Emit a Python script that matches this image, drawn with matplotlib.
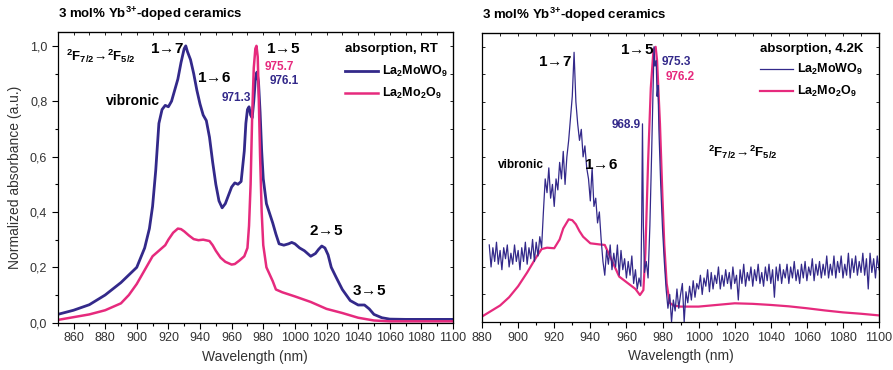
import numpy as np
import matplotlib
matplotlib.use("Agg")
from matplotlib import pyplot as plt
from matplotlib.ticker import MultipleLocator, FuncFormatter

plt.rcParams['font.family'] = ['Liberation Sans', 'DejaVu Sans']
plt.rcParams['mathtext.fontset'] = 'custom'
plt.rcParams['mathtext.rm'] = 'Liberation Sans:bold'
plt.rcParams['mathtext.it'] = 'Liberation Sans:bold'
plt.rcParams['mathtext.bf'] = 'Liberation Sans:bold'
plt.rcParams['mathtext.default'] = 'rm'

BLUE = '#33298a'
PINK = '#e62a7d'

# ---- room temperature data (left panel)
rt_wl_mowo = [850, 860, 870, 880, 890, 900, 905, 908, 910, 912, 914, 916, 918, 920, 922, 924, 926,
              928, 930, 931, 932, 934, 936, 938, 940, 942, 944, 946, 948, 950, 952, 954, 956, 958,
              960, 962, 964, 966, 968, 969, 970, 971, 972, 973, 974, 975, 976, 977, 978, 979, 980,
              982, 986, 988, 990, 993, 996, 998, 1000, 1003, 1006, 1010, 1013, 1015, 1017, 1019,
              1021, 1023, 1026, 1030, 1035, 1040, 1044, 1047, 1050, 1055, 1060, 1070, 1080, 1090, 1100]
rt_abs_mowo = [0.03, 0.045, 0.065, 0.10, 0.145, 0.20, 0.27, 0.34, 0.42, 0.55, 0.72, 0.77, 0.785, 0.78,
               0.80, 0.84, 0.88, 0.94, 0.99, 1.0, 0.98, 0.95, 0.90, 0.84, 0.79, 0.75, 0.73, 0.67, 0.58,
               0.50, 0.44, 0.415, 0.43, 0.46, 0.49, 0.505, 0.50, 0.51, 0.62, 0.72, 0.77, 0.78, 0.75,
               0.74, 0.80, 0.88, 0.905, 0.87, 0.76, 0.62, 0.52, 0.43, 0.36, 0.32, 0.285, 0.28, 0.285,
               0.29, 0.285, 0.27, 0.26, 0.24, 0.25, 0.265, 0.277, 0.27, 0.245, 0.20, 0.165, 0.12,
               0.08, 0.064, 0.064, 0.05, 0.03, 0.018, 0.013, 0.012, 0.012, 0.012, 0.012]

rt_wl_mo2 = [850, 860, 870, 880, 890, 895, 900, 905, 910, 915, 918, 920, 923, 926, 928, 930, 933, 936,
             939, 942, 946, 948, 950, 953, 956, 960, 962, 965, 968, 970, 971, 972, 973, 974, 975,
             975.7, 976.5, 977, 978, 979, 980, 982, 986, 988, 992, 1000, 1010, 1020, 1030, 1040,
             1050, 1060, 1080, 1100]
rt_abs_mo2 = [0.01, 0.02, 0.03, 0.045, 0.07, 0.10, 0.14, 0.19, 0.24, 0.265, 0.28, 0.30, 0.325, 0.34,
              0.338, 0.33, 0.315, 0.302, 0.298, 0.30, 0.295, 0.28, 0.26, 0.235, 0.22, 0.21, 0.212,
              0.225, 0.24, 0.27, 0.35, 0.50, 0.75, 0.92, 0.99, 1.0, 0.96, 0.85, 0.60, 0.40, 0.28,
              0.20, 0.15, 0.12, 0.11, 0.095, 0.075, 0.05, 0.035, 0.018, 0.008, 0.005, 0.005, 0.005]

# ---- 4.2 K data (right panel)
lt_wl_mowo = list(range(884, 969)) + [968.5, 968.9, 969.4, 970, 971, 972, 972.5, 973, 974, 975,
                                        975.3, 975.8, 976.5, 977, 977.5, 978, 979, 980, 981] + \
    list(range(982, 1101))
lt_abs_mowo = [
    # 884 - 913
    0.28, 0.20, 0.27, 0.22, 0.29, 0.21, 0.26, 0.19, 0.27, 0.23, 0.28, 0.20, 0.25, 0.21, 0.28, 0.22,
    0.26, 0.19, 0.27, 0.22, 0.29, 0.21, 0.27, 0.23, 0.30, 0.22, 0.29, 0.24, 0.31, 0.27,
    # 914 - 967
    0.40, 0.52, 0.47, 0.56, 0.45, 0.50, 0.42, 0.52, 0.48, 0.58, 0.52, 0.62, 0.50, 0.60, 0.66, 0.74,
    0.82, 0.98, 0.80, 0.72, 0.66, 0.70, 0.60, 0.64, 0.56, 0.52, 0.44, 0.56, 0.42, 0.45, 0.36, 0.40,
    0.30, 0.22, 0.17, 0.26, 0.21, 0.28, 0.19, 0.25, 0.20, 0.28, 0.17, 0.26, 0.19, 0.23, 0.16, 0.22,
    0.17, 0.24, 0.14, 0.19, 0.12, 0.16,
    # 968 - 981
    0.13, 0.40, 0.72, 0.35, 0.18, 0.22, 0.16, 0.25, 0.35, 0.62, 0.92, 1.0, 0.93, 0.95, 0.82, 0.86,
    0.70, 0.50, 0.34, 0.22,
    # 982 - 999
    0.12, 0.05, 0.10, 0.0, 0.08, 0.04, 0.12, 0.05, 0.10, 0.14, 0.0, 0.11, 0.07, 0.13, 0.08, 0.15,
    0.09, 0.14,
    # 1000 - 1100
    0.12, 0.17, 0.10, 0.16, 0.13, 0.19, 0.11, 0.18, 0.12, 0.17, 0.14, 0.20, 0.12, 0.17, 0.13, 0.19,
    0.14, 0.18, 0.12, 0.20, 0.14, 0.17, 0.08, 0.19, 0.14, 0.21, 0.13, 0.18, 0.15, 0.20, 0.13, 0.19,
    0.15, 0.21, 0.14, 0.18, 0.13, 0.20, 0.15, 0.21, 0.14, 0.19, 0.09, 0.20, 0.15, 0.21, 0.14, 0.19,
    0.16, 0.21, 0.14, 0.20, 0.16, 0.22, 0.15, 0.19, 0.14, 0.21, 0.16, 0.22, 0.15, 0.20, 0.17, 0.23,
    0.15, 0.21, 0.17, 0.22, 0.16, 0.21, 0.17, 0.24, 0.16, 0.21, 0.17, 0.24, 0.16, 0.22, 0.18, 0.24,
    0.16, 0.21, 0.17, 0.25, 0.16, 0.23, 0.18, 0.24, 0.17, 0.22, 0.18, 0.25, 0.17, 0.23, 0.12, 0.25,
    0.18, 0.23, 0.16, 0.24, 0.19]

lt_wl_mo2 = [880, 885, 890, 895, 900, 905, 910, 913, 916, 920, 923, 925, 928, 930, 932, 934, 936,
             940, 945, 948, 951, 956, 962, 965, 967.5, 969.4, 970.5, 972, 973.5, 975, 976.2, 977,
             978.6, 980, 981, 982.3, 984, 986, 990, 1000, 1010, 1020, 1030, 1040, 1050, 1060,
             1070, 1080, 1090, 1100]
lt_abs_mo2 = [0.02, 0.04, 0.06, 0.09, 0.13, 0.18, 0.235, 0.265, 0.27, 0.268, 0.30, 0.34, 0.373,
              0.37, 0.355, 0.33, 0.31, 0.286, 0.282, 0.28, 0.237, 0.165, 0.135, 0.12, 0.098, 0.116,
              0.25, 0.58, 0.85, 0.99, 1.0, 0.95, 0.72, 0.45, 0.28, 0.14, 0.07, 0.06, 0.056, 0.056,
              0.062, 0.068, 0.066, 0.062, 0.057, 0.05, 0.042, 0.035, 0.03, 0.024]

lbl_mowo = r'La$_2$MoWO$_9$'
lbl_mo2 = r'La$_2$Mo$_2$O$_9$'
title = r'3 mol% Yb$^{3{+}}$-doped ceramics'
trans = r'$^2F_{7/2}\!\rightarrow\!{}^2F_{5/2}$'


def tr(a, b):
    return r'$%s\!\rightarrow\!%s$' % (a, b)


comma = FuncFormatter(lambda v, p: ('%.1f' % v).replace('.', ','))

fig = plt.figure(figsize=(8.93, 3.70), dpi=100)
ax1 = fig.add_axes([0.0646, 0.1278, 0.4427, 0.7857])
ax2 = fig.add_axes([0.5398, 0.1297, 0.4446, 0.7810])


def style(ax, xmin, step_major, ylabels):
    ax.set_xlim(xmin, 1100)
    ax.set_ylim(0, 1.05)
    ax.xaxis.set_major_locator(MultipleLocator(step_major))
    ax.xaxis.set_minor_locator(MultipleLocator(step_major / 2))
    ax.yaxis.set_major_locator(MultipleLocator(0.2))
    ax.yaxis.set_minor_locator(MultipleLocator(0.1))
    ax.tick_params(axis='x', which='major', direction='out', length=4, width=0.8,
                   labelsize=9, labelcolor='#333333', pad=3)
    ax.tick_params(axis='x', which='minor', direction='out', length=2.5, width=0.8)
    top = ax.secondary_xaxis('top')
    top.xaxis.set_major_locator(MultipleLocator(step_major))
    top.xaxis.set_minor_locator(MultipleLocator(step_major / 2))
    top.tick_params(which='both', direction='in', length=2.5, width=0.6, labeltop=False)
    right = ax.secondary_yaxis('right')
    right.yaxis.set_major_locator(MultipleLocator(0.2))
    right.yaxis.set_minor_locator(MultipleLocator(0.1))
    right.tick_params(which='both', direction='in', length=2.5, width=0.6, labelright=False)
    if ylabels:
        ax.yaxis.set_major_formatter(comma)
        ax.tick_params(axis='y', which='major', direction='out', length=4, width=0.8,
                       labelsize=9, labelcolor='#333333')
        ax.tick_params(axis='y', which='minor', direction='out', length=2.5, width=0.8)
    else:
        ax.tick_params(axis='y', which='both', direction='in', length=2.5, width=0.6,
                       labelleft=False)
    for s in ax.spines.values():
        s.set_linewidth(0.9)
    ax.set_xlabel('Wavelength (nm)', fontsize=10, color='#333333', labelpad=4)
    ax.text(0, 1.03, title, transform=ax.transAxes, fontsize=9.5, fontweight='bold',
            ha='left', va='bottom')


leg_kw = dict(loc='upper left', frameon=False, handlelength=2.65, handletextpad=0.3,
              labelspacing=0.55, borderaxespad=0, borderpad=0,
              prop={'weight': 'bold', 'size': 9})

# left panel
l1, = ax1.plot(rt_wl_mowo, rt_abs_mowo, color=BLUE, lw=2.0, label=lbl_mowo)
l2, = ax1.plot(rt_wl_mo2, rt_abs_mo2, color=PINK, lw=1.8, label=lbl_mo2)
style(ax1, 850, 20, True)
ax1.set_ylabel('Normalized absorbance (a.u.)', fontsize=10, color='#333333', labelpad=6)

bold = dict(fontweight='bold', ha='center', va='center')
ax1.text(0.022, 0.915, trans, transform=ax1.transAxes, fontsize=9.5, ha='left', va='center')
ax1.text(919.1, 0.99, tr(1, 7), fontsize=11, **bold)
ax1.text(948.9, 0.885, tr(1, 6), fontsize=11, **bold)
ax1.text(897.6, 0.80, 'vibronic', fontsize=10, **bold)
ax1.text(962.8, 0.81, '971.3', fontsize=8.5, color=BLUE, **bold)
ax1.text(992.5, 0.99, tr(1, 5), fontsize=11, **bold)
ax1.text(990.0, 0.924, '975.7', fontsize=8.5, color=PINK, **bold)
ax1.text(993.1, 0.874, '976.1', fontsize=8.5, color=BLUE, **bold)
ax1.text(1019.7, 0.33, tr(2, 5), fontsize=11, **bold)
ax1.text(1046.9, 0.114, tr(3, 5), fontsize=11, **bold)
ax1.text(0.727, 0.94, 'absorption, RT', transform=ax1.transAxes, fontsize=9.5,
         fontweight='bold', ha='left', va='center')
ax1.legend(handles=[l1, l2], bbox_to_anchor=(0.727, 0.89), **leg_kw)

# right panel
r2, = ax2.plot(lt_wl_mo2, lt_abs_mo2, color=PINK, lw=1.6, label=lbl_mo2)
r1, = ax2.plot(lt_wl_mowo, lt_abs_mowo, color=BLUE, lw=0.9, label=lbl_mowo)
style(ax2, 880, 20, False)

ax2.text(920.4, 0.945, tr(1, 7), fontsize=11, **bold)
ax2.text(965.9, 0.99, tr(1, 5), fontsize=11, **bold)
ax2.text(987.5, 0.945, '975.3', fontsize=8.5, color=BLUE, **bold)
ax2.text(989.7, 0.89, '976.2', fontsize=8.5, color=PINK, **bold)
ax2.text(959.8, 0.716, '968.9', fontsize=8.5, color=BLUE, **bold)
ax2.text(901.6, 0.571, 'vibronic', fontsize=8.5, **bold)
ax2.text(945.9, 0.571, tr(1, 6), fontsize=11, **bold)
ax2.text(1005.2, 0.618, trans, fontsize=9.5, ha='left', va='center')
ax2.text(0.70, 0.945, 'absorption, 4.2K', transform=ax2.transAxes, fontsize=9.5,
         fontweight='bold', ha='left', va='center')
ax2.legend(handles=[r1, r2], bbox_to_anchor=(0.70, 0.90), **leg_kw)

fig.savefig('out.png', dpi=100)
